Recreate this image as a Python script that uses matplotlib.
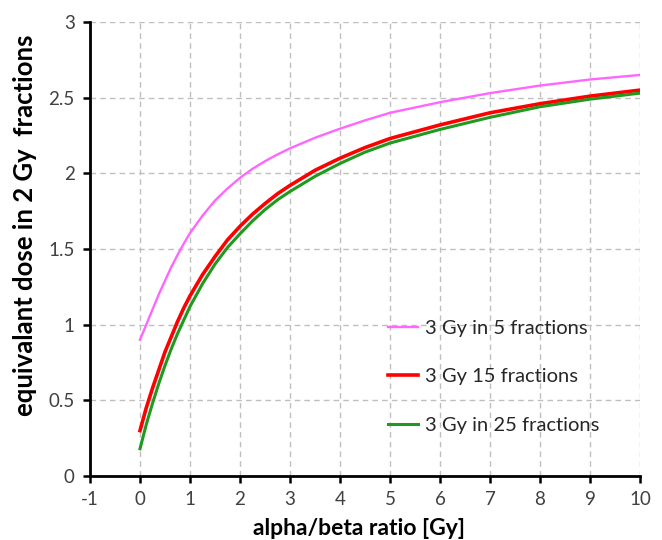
import matplotlib
matplotlib.use("Agg")
import matplotlib.pyplot as plt

plt.rcParams['font.family'] = ['Lato', 'DejaVu Sans']

ab_ratio = [0, 0.125, 0.25, 0.375, 0.5, 0.625, 0.75, 0.875, 1, 1.25, 1.5, 1.75, 2,
            2.25, 2.5, 2.75, 3, 3.5, 4, 4.5, 5, 6, 7, 8, 9, 10]
eqd2_5fx = [0.90, 1.00, 1.10, 1.20, 1.29, 1.38, 1.46, 1.535, 1.605, 1.72, 1.82, 1.90, 1.97,
            2.03, 2.08, 2.125, 2.165, 2.235, 2.295, 2.35, 2.40, 2.47, 2.53, 2.58, 2.62, 2.65]
eqd2_15fx = [0.30, 0.45, 0.58, 0.70, 0.82, 0.92, 1.02, 1.11, 1.19, 1.33, 1.45, 1.56, 1.65,
             1.73, 1.80, 1.865, 1.92, 2.02, 2.10, 2.17, 2.23, 2.32, 2.40, 2.46, 2.51, 2.55]
eqd2_25fx = [0.18, 0.34, 0.48, 0.61, 0.73, 0.84, 0.94, 1.03, 1.12, 1.27, 1.40, 1.51, 1.60,
             1.685, 1.76, 1.825, 1.88, 1.98, 2.065, 2.14, 2.20, 2.29, 2.37, 2.44, 2.49, 2.53]
labels = ["3 Gy in 5 fractions", "3 Gy 15 fractions", "3 Gy in 25 fractions"]
x_ticks = list(range(-1, 11))
y_ticks = [0, 0.5, 1, 1.5, 2, 2.5, 3]
y_ticklabels = ["0", "0.5", "1", "1.5", "2", "2.5", "3"]

fig = plt.figure(figsize=(6.62, 5.40), dpi=100)
ax = fig.add_axes([90/662, 1-476/540, 550/662, 454/540])

ax.plot(ab_ratio, eqd2_5fx, color='#FF66FF', lw=1.7, label=labels[0])
ax.plot(ab_ratio, eqd2_15fx, color='#FF0000', lw=2.6, label=labels[1])
ax.plot(ab_ratio, eqd2_25fx, color='#1E9A1E', lw=2.2, label=labels[2])

ax.set_xlim(-1, 10)
ax.set_ylim(0, 3)
ax.set_xticks(x_ticks)
ax.set_xticklabels([str(v) for v in x_ticks])
ax.set_yticks(y_ticks)
ax.set_yticklabels(y_ticklabels)

ax.grid(True, color='#BFBFBF', linestyle=(0, (4, 3)), linewidth=1.0)
ax.set_axisbelow(True)
for s in ['top', 'right']:
    ax.spines[s].set_visible(False)
for s in ['left', 'bottom']:
    ax.spines[s].set_linewidth(2.0)
    ax.spines[s].set_color('black')
ax.tick_params(axis='both', direction='out', length=5, width=1.8, colors='black',
               labelcolor='#404040', labelsize=13.5, pad=6)

ax.set_xlabel("alpha/beta ratio [Gy]", fontsize=16.5, fontweight='bold')
ax.set_ylabel("equivalant dose in 2 Gy  fractions", fontsize=18.5, fontweight='bold')
ax.xaxis.set_label_coords((359-90)/550, (476-518)/454)
ax.yaxis.set_label_coords((37-90)/550, (476-225)/454)

leg = ax.legend(loc='upper left', bbox_to_anchor=((388-90)/550, (476-320)/454),
                frameon=False, fontsize=14.5, handlelength=1.5, handletextpad=0.35,
                labelspacing=1.55, borderpad=0, borderaxespad=0)
for t in leg.get_texts():
    t.set_color('#262626')

fig.savefig("out.png", dpi=100)
